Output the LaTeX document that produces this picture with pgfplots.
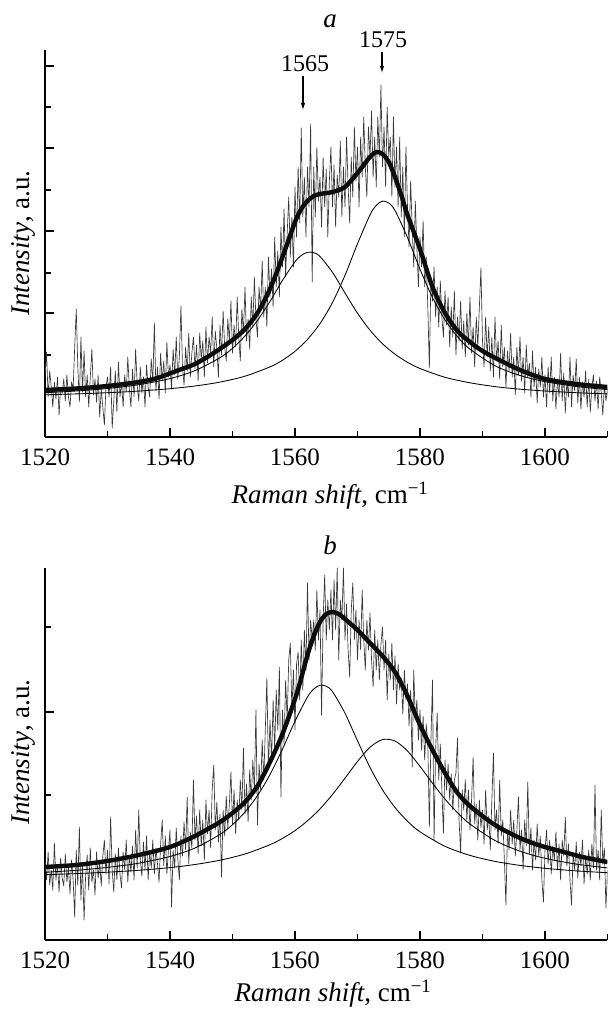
\documentclass[border=0pt]{standalone}
\usepackage{fontspec}
\setmainfont{Liberation Serif}
\usepackage{pgfplots}
\pgfplotsset{compat=1.18}
\usetikzlibrary{arrows.meta}
\pgfplotsset{
  ramanaxis/.style={
    scale only axis, width=562.5bp,
    xmin=1520, xmax=1610, ymin=0,
    axis x line=bottom, axis y line=left,
    axis line style={-, line width=1.5bp},
    xtick={1520,1540,1560,1580,1600},
    minor xtick={1530,1550,1570,1590,1610},
    tick align=inside,
    major tick length=9bp, minor tick length=6bp,
    every tick/.style={line width=1.2bp, black},
    yticklabels={},
    xticklabel style={font=\fontsize{25bp}{28bp}\selectfont, anchor=base, yshift=-29bp},
    /pgf/number format/assume math mode=true,
    /pgf/number format/1000 sep={},
    clip=true,
  },
  noise/.style={black!78, line width=0.65bp, line join=round},
  fit/.style={black, line width=0.85bp, smooth},
  sumfit/.style={black!95, line width=4.4bp, smooth},
}
\begin{document}
\begin{tikzpicture}
\path[use as bounding box] (0,0) rectangle (611bp,1011bp);
% ---------------- panel a ----------------
\begin{axis}[ramanaxis, at={(45bp,574bp)}, anchor=south west,
  height=387bp, ymax=387,
  ytick={124,206,289,371}, minor ytick={82,164,247,330}]
\addplot[noise] coordinates {
(1520,60)(1520.25,85)(1520.5,40)(1520.75,66)
(1521,50)(1521.25,30)(1521.5,55)(1521.75,38)
(1522,60)(1522.25,22)(1522.5,50)(1522.75,44)
(1523,58)(1523.25,36)(1523.5,62)(1523.75,40)
(1524,30)(1524.25,55)(1524.5,48)(1524.75,90)
(1525,128)(1525.25,70)(1525.5,35)(1525.75,100)
(1526,45)(1526.25,86)(1526.5,40)(1526.75,62)
(1527,30)(1527.25,60)(1527.5,88)(1527.75,42)
(1528,58)(1528.25,35)(1528.5,62)(1528.75,20)
(1529,48)(1529.25,30)(1529.5,12)(1529.75,50)
(1530,60)(1530.25,40)(1530.5,70)(1530.75,9)
(1531,35)(1531.25,66)(1531.5,25)(1531.75,75)
(1532,40)(1532.25,55)(1532.5,30)(1532.75,62)
(1533,45)(1533.25,80)(1533.5,48)(1533.75,30)
(1534,68)(1534.25,40)(1534.5,88)(1534.75,52)
(1535,36)(1535.25,70)(1535.5,44)(1535.75,60)
(1536,30)(1536.25,72)(1536.5,50)(1536.75,40)
(1537,78)(1537.25,55)(1537.5,114)(1537.75,46)
(1538,70)(1538.25,38)(1538.5,84)(1538.75,56)
(1539,76)(1539.25,44)(1539.5,95)(1539.75,60)
(1540,72)(1540.25,48)(1540.5,88)(1540.75,62)
(1541,100)(1541.25,58)(1541.5,80)(1541.75,131)
(1542,70)(1542.25,52)(1542.5,90)(1542.75,66)
(1543,104)(1543.25,60)(1543.5,84)(1543.75,100)
(1544,68)(1544.25,92)(1544.5,56)(1544.75,104)
(1545,78)(1545.25,96)(1545.5,60)(1545.75,110)
(1546,74)(1546.25,100)(1546.5,84)(1546.75,120)
(1547,70)(1547.25,106)(1547.5,88)(1547.75,60)
(1548,112)(1548.25,82)(1548.5,126)(1548.75,90)
(1549,76)(1549.25,118)(1549.5,96)(1549.75,136)
(1550,84)(1550.25,112)(1550.5,90)(1550.75,140)
(1551,100)(1551.25,76)(1551.5,128)(1551.75,104)
(1552,150)(1552.25,96)(1552.5,118)(1552.75,88)
(1553,140)(1553.25,110)(1553.5,160)(1553.75,118)
(1554,100)(1554.25,150)(1554.5,126)(1554.75,176)
(1555,120)(1555.25,150)(1555.5,110)(1555.75,180)
(1556,140)(1556.25,168)(1556.5,130)(1556.75,200)
(1557,150)(1557.25,186)(1557.5,140)(1557.75,210)
(1558,170)(1558.25,228)(1558.5,160)(1558.75,204)
(1559,240)(1559.25,180)(1559.5,220)(1559.75,170)
(1560,250)(1560.25,200)(1560.5,270)(1560.75,214)
(1561,309)(1561.25,220)(1561.5,260)(1561.75,200)
(1562,270)(1562.25,230)(1562.5,313)(1562.75,155)
(1563,270)(1563.25,220)(1563.5,290)(1563.75,236)
(1564,260)(1564.25,210)(1564.5,280)(1564.75,230)
(1565,268)(1565.25,200)(1565.5,256)(1565.75,290)
(1566,230)(1566.25,272)(1566.5,210)(1566.75,262)
(1567,240)(1567.25,296)(1567.5,220)(1567.75,270)
(1568,230)(1568.25,300)(1568.5,250)(1568.75,214)
(1569,280)(1569.25,240)(1569.5,310)(1569.75,256)
(1570,290)(1570.25,230)(1570.5,300)(1570.75,260)
(1571,320)(1571.25,270)(1571.5,240)(1571.75,310)
(1572,280)(1572.25,326)(1572.5,260)(1572.75,300)
(1573,250)(1573.25,320)(1573.5,280)(1573.75,352)
(1574,270)(1574.25,310)(1574.5,250)(1574.75,330)
(1575,280)(1575.25,300)(1575.5,240)(1575.75,320)
(1576,250)(1576.25,290)(1576.5,230)(1576.75,300)
(1577,220)(1577.25,270)(1577.5,200)(1577.75,290)
(1578,230)(1578.25,190)(1578.5,256)(1578.75,210)
(1579,170)(1579.25,236)(1579.5,190)(1579.75,150)
(1580,200)(1580.25,170)(1580.5,216)(1580.75,150)
(1581,180)(1581.25,130)(1581.5,69)(1581.75,160)
(1582,136)(1582.25,170)(1582.5,120)(1582.75,150)
(1583,110)(1583.25,156)(1583.5,120)(1583.75,100)
(1584,146)(1584.25,112)(1584.5,140)(1584.75,90)
(1585,130)(1585.25,100)(1585.5,146)(1585.75,82)
(1586,120)(1586.25,96)(1586.5,136)(1586.75,88)
(1587,116)(1587.25,80)(1587.5,124)(1587.75,92)
(1588,140)(1588.25,84)(1588.5,110)(1588.75,70)
(1589,120)(1589.25,90)(1589.5,130)(1589.75,169)
(1590,96)(1590.25,70)(1590.5,120)(1590.75,80)
(1591,110)(1591.25,66)(1591.5,100)(1591.75,60)
(1592,120)(1592.25,76)(1592.5,96)(1592.75,58)
(1593,112)(1593.25,70)(1593.5,90)(1593.75,50)
(1594,86)(1594.25,66)(1594.5,104)(1594.75,60)
(1595,80)(1595.25,42)(1595.5,90)(1595.75,62)
(1596,100)(1596.25,56)(1596.5,80)(1596.75,44)
(1597,92)(1597.25,60)(1597.5,74)(1597.75,40)
(1598,86)(1598.25,50)(1598.5,70)(1598.75,34)
(1599,68)(1599.25,50)(1599.5,80)(1599.75,40)
(1600,62)(1600.25,30)(1600.5,70)(1600.75,44)
(1601,80)(1601.25,36)(1601.5,60)(1601.75,28)
(1602,58)(1602.25,40)(1602.5,84)(1602.75,36)
(1603,64)(1603.25,24)(1603.5,56)(1603.75,40)
(1604,80)(1604.25,30)(1604.5,62)(1604.75,46)
(1605,78)(1605.25,34)(1605.5,60)(1605.75,28)
(1606,55)(1606.25,40)(1606.5,66)(1606.75,30)
(1607,58)(1607.25,25)(1607.5,50)(1607.75,62)
(1608,36)(1608.25,56)(1608.5,28)(1608.75,60)
(1609,44)(1609.25,22)(1609.5,52)(1609.75,36)
(1610,48)};
\addplot[fit] coordinates {
(1520,44.3)(1525,46.0)(1530,48.5)(1535,52.3)(1540,58.4)(1544,66.4)(1548,79.3)(1550,88.7)
(1552,101.0)(1554,116.6)(1556,135.6)(1558,156.6)(1560,175.2)(1561,181.5)(1562,184.7)(1563,184.3)
(1564,180.5)(1566,164.7)(1568,144.0)(1570,123.8)(1572,106.8)(1574,93.2)(1576,82.8)(1578,74.7)
(1580,68.5)(1584,59.7)(1588,54.2)(1592,50.4)(1596,47.8)(1600,46.0)(1605,44.3)(1610,43.1)};
\addplot[fit] coordinates {
(1520,42.2)(1525,43.1)(1530,44.3)(1535,45.9)(1540,48.3)(1544,51.0)(1548,54.9)(1552,60.8)
(1556,70.1)(1558,76.8)(1560,85.7)(1562,97.6)(1564,113.4)(1566,134.5)(1568,161.7)(1570,193.2)
(1572,222.1)(1573,231.6)(1574,235.9)(1575,234.0)(1576,226.5)(1578,199.5)(1580,167.8)(1582,139.5)
(1584,117.2)(1586,100.3)(1588,87.8)(1592,71.3)(1596,61.5)(1600,55.4)(1605,50.5)(1610,47.4)};
\addplot[sumfit] coordinates {
(1520,47)(1525,48.5)(1530,51)(1535,55)(1538,59)(1541,66)(1544,73)(1547,84)(1550,97)
(1552,108)(1554,124)(1556,148)(1558,180)(1560,215)(1561,228)(1562,236)(1563,241)(1564,243)
(1566,245)(1568,250)(1570,264)(1572,280)(1573,285)(1574,283)(1575,275)(1576,260)(1577,242)
(1578,222)(1580,188)(1582,150)(1584,124)(1586,106)(1588,95)(1590,86)(1593,76)(1596,67)
(1600,58)(1605,53)(1610,50)};
\end{axis}
% ---------------- panel b ----------------
\begin{axis}[ramanaxis, at={(45bp,71bp)}, anchor=south west,
  height=372bp, ymax=372,
  ytick={228}, minor ytick={145,313}]
\addplot[noise] coordinates {
(1520,80)(1520.25,60)(1520.5,88)(1520.75,55)
(1521,70)(1521.25,50)(1521.5,97)(1521.75,60)
(1522,75)(1522.25,48)(1522.5,82)(1522.75,62)
(1523,54)(1523.25,86)(1523.5,58)(1523.75,72)
(1524,46)(1524.25,80)(1524.5,60)(1524.75,23)
(1525,90)(1525.25,55)(1525.5,113)(1525.75,40)
(1526,76)(1526.25,20)(1526.5,64)(1526.75,85)
(1527,50)(1527.25,92)(1527.5,58)(1527.75,70)
(1528,45)(1528.25,88)(1528.5,62)(1528.75,78)
(1529,54)(1529.25,84)(1529.5,100)(1529.75,66)
(1530,90)(1530.25,56)(1530.5,123)(1530.75,70)
(1531,48)(1531.25,86)(1531.5,60)(1531.75,92)
(1532,66)(1532.25,52)(1532.5,88)(1532.75,70)
(1533,100)(1533.25,58)(1533.5,84)(1533.75,68)
(1534,94)(1534.25,60)(1534.5,110)(1534.75,72)
(1535,130)(1535.25,80)(1535.5,64)(1535.75,98)
(1536,70)(1536.25,104)(1536.5,60)(1536.75,88)
(1537,72)(1537.25,100)(1537.5,66)(1537.75,92)
(1538,76)(1538.25,58)(1538.5,96)(1538.75,120)
(1539,74)(1539.25,104)(1539.5,66)(1539.75,90)
(1540,110)(1540.25,33)(1540.5,90)(1540.75,72)
(1541,112)(1541.25,80)(1541.5,60)(1541.75,104)
(1542,84)(1542.25,118)(1542.5,90)(1542.75,143)
(1543,76)(1543.25,108)(1543.5,92)(1543.75,160)
(1544,100)(1544.25,124)(1544.5,86)(1544.75,130)
(1545,94)(1545.25,120)(1545.5,80)(1545.75,140)
(1546,106)(1546.25,130)(1546.5,92)(1546.75,150)
(1547,175)(1547.25,110)(1547.5,138)(1547.75,98)
(1548,126)(1548.25,63)(1548.5,130)(1548.75,104)
(1549,144)(1549.25,112)(1549.5,136)(1549.75,168)
(1550,116)(1550.25,150)(1550.5,106)(1550.75,140)
(1551,120)(1551.25,160)(1551.5,130)(1551.75,192)
(1552,126)(1552.25,156)(1552.5,118)(1552.75,170)
(1553,140)(1553.25,180)(1553.5,150)(1553.75,230)
(1554,115)(1554.25,176)(1554.5,150)(1554.75,200)
(1555,160)(1555.25,210)(1555.5,262)(1555.75,170)
(1556,220)(1556.25,180)(1556.5,240)(1556.75,190)
(1557,250)(1557.25,210)(1557.5,273)(1557.75,143)
(1558,230)(1558.25,196)(1558.5,260)(1558.75,220)
(1559,280)(1559.25,297)(1559.5,230)(1559.75,270)
(1560,210)(1560.25,276)(1560.5,288)(1560.75,240)
(1561,300)(1561.25,250)(1561.5,310)(1561.75,270)
(1562,357)(1562.25,280)(1562.5,320)(1562.75,300)
(1563,320)(1563.25,290)(1563.5,350)(1563.75,300)
(1564,330)(1564.25,225)(1564.5,320)(1564.75,365)
(1565,300)(1565.25,340)(1565.5,310)(1565.75,350)
(1566,300)(1566.25,360)(1566.5,310)(1566.75,372)
(1567,280)(1567.25,340)(1567.5,320)(1567.75,372)
(1568,300)(1568.25,336)(1568.5,290)(1568.75,263)
(1569,330)(1569.25,357)(1569.5,300)(1569.75,330)
(1570,280)(1570.25,320)(1570.5,290)(1570.75,350)
(1571,300)(1571.25,270)(1571.5,320)(1571.75,290)
(1572,327)(1572.25,280)(1572.5,253)(1572.75,310)
(1573,270)(1573.25,300)(1573.5,260)(1573.75,296)
(1574,313)(1574.25,270)(1574.5,300)(1574.75,240)
(1575,286)(1575.25,260)(1575.5,297)(1575.75,250)
(1576,284)(1576.25,236)(1576.5,276)(1576.75,250)
(1577,262)(1577.25,226)(1577.5,270)(1577.75,240)
(1578,256)(1578.25,214)(1578.5,250)(1578.75,173)
(1579,270)(1579.25,220)(1579.5,240)(1579.75,200)
(1580,230)(1580.25,190)(1580.5,224)(1580.75,180)
(1581,216)(1581.25,196)(1581.5,113)(1581.75,200)
(1582,260)(1582.25,100)(1582.5,190)(1582.75,227)
(1583,160)(1583.25,196)(1583.5,150)(1583.75,107)
(1584,180)(1584.25,150)(1584.5,176)(1584.75,140)
(1585,166)(1585.25,130)(1585.5,160)(1585.75,167)
(1586,202)(1586.25,120)(1586.5,87)(1586.75,150)
(1587,130)(1587.25,160)(1587.5,120)(1587.75,150)
(1588,110)(1588.25,140)(1588.5,183)(1588.75,116)
(1589,136)(1589.25,100)(1589.5,140)(1589.75,112)
(1590,130)(1590.25,96)(1590.5,150)(1590.75,110)
(1591,124)(1591.25,90)(1591.5,140)(1591.75,187)
(1592,110)(1592.25,130)(1592.5,96)(1592.75,160)
(1593,104)(1593.25,120)(1593.5,80)(1593.75,35)
(1594,110)(1594.25,90)(1594.5,130)(1594.75,96)
(1595,120)(1595.25,84)(1595.5,110)(1595.75,143)
(1596,90)(1596.25,110)(1596.5,70)(1596.75,120)
(1597,94)(1597.25,158)(1597.5,86)(1597.75,112)
(1598,70)(1598.25,100)(1598.5,80)(1598.75,116)
(1599,84)(1599.25,104)(1599.5,60)(1599.75,38)
(1600,90)(1600.25,110)(1600.5,76)(1600.75,100)
(1601,66)(1601.25,94)(1601.5,80)(1601.75,108)
(1602,70)(1602.25,96)(1602.5,60)(1602.75,100)
(1603,84)(1603.25,123)(1603.5,74)(1603.75,96)
(1604,60)(1604.25,35)(1604.5,86)(1604.75,70)
(1605,98)(1605.25,62)(1605.5,88)(1605.75,74)
(1606,100)(1606.25,56)(1606.5,84)(1606.75,66)
(1607,90)(1607.25,60)(1607.5,96)(1607.75,72)
(1608,155)(1608.25,70)(1608.5,90)(1608.75,60)
(1609,130)(1609.25,76)(1609.5,92)(1609.75,32)
(1610,70)};
\addplot[fit] coordinates {
(1520,67.7)(1525,69.7)(1530,72.6)(1535,76.8)(1540,83.5)(1544,92.0)(1548,105.6)(1550,115.3)
(1552,128.0)(1554,144.4)(1556,165.4)(1558,190.9)(1560,218.8)(1562,243.0)(1563,251.0)(1564,254.8)
(1565,253.8)(1566,248.3)(1568,226.8)(1570,199.2)(1572,172.6)(1574,150.2)(1576,132.5)(1578,118.8)
(1580,108.2)(1584,93.7)(1588,84.6)(1592,78.6)(1596,74.6)(1600,71.7)(1605,69.1)(1610,67.3)};
\addplot[fit] coordinates {
(1520,65.3)(1525,66.4)(1530,67.8)(1535,69.7)(1540,72.4)(1544,75.5)(1548,79.8)(1552,86.0)
(1556,95.3)(1558,101.6)(1560,109.4)(1562,119.2)(1564,131.1)(1566,145.5)(1568,161.8)(1570,178.5)
(1572,192.7)(1574,200.4)(1576,199.0)(1578,189.0)(1580,173.6)(1582,156.8)(1584,140.9)(1586,127.3)
(1588,116.0)(1592,99.5)(1596,88.8)(1600,81.7)(1605,75.9)(1610,72.1)};
\addplot[sumfit] coordinates {
(1520,73)(1525,75)(1530,79)(1535,85)(1540,93)(1544,104)(1548,118)(1550,127)(1552,138)
(1554,154)(1556,178)(1558,206)(1560,241)(1561,262)(1562,285)(1563,304)(1564,318)(1565,326)
(1566,328)(1567,326)(1568,321)(1570,310)(1572,297)(1574,284)(1576,268)(1578,244)(1580,215)
(1582,190)(1584,167)(1586,147)(1588,134)(1590,124)(1592,115)(1594,108)(1596,102)(1598,97)
(1600,93)(1603,88)(1606,83)(1610,78)};
\end{axis}
% ---------------- texts ----------------
\node[anchor=base, font=\fontsize{27bp}{30bp}\selectfont] at (330bp,983bp) {\textit{a}};
\node[anchor=base, font=\fontsize{27bp}{30bp}\selectfont] at (330bp,456bp) {\textit{b}};
\node[anchor=base, font=\fontsize{24bp}{26bp}\selectfont] at (383bp,963bp) {1575};
\node[anchor=base, font=\fontsize{24bp}{26bp}\selectfont] at (305bp,939bp) {1565};
\draw[line width=1.1bp, -{Latex[length=7bp,width=4.5bp]}] (382bp,959bp) -- (382bp,938bp);
\draw[line width=1.1bp, -{Latex[length=7bp,width=4.5bp]}] (303bp,935bp) -- (303bp,901bp);
\node[anchor=base, font=\fontsize{27bp}{30bp}\selectfont] at (330bp,507bp) {\textit{Raman shift}, cm\textsuperscript{−1}};
\node[anchor=base, font=\fontsize{27bp}{30bp}\selectfont] at (333bp,10bp) {\textit{Raman shift}, cm\textsuperscript{−1}};
\node[anchor=base, rotate=90, font=\fontsize{27bp}{30bp}\selectfont] at (29bp,768bp) {\textit{Intensity}, a.u.};
\node[anchor=base, rotate=90, font=\fontsize{27bp}{30bp}\selectfont] at (29bp,259bp) {\textit{Intensity}, a.u.};
\end{tikzpicture}
\end{document}
